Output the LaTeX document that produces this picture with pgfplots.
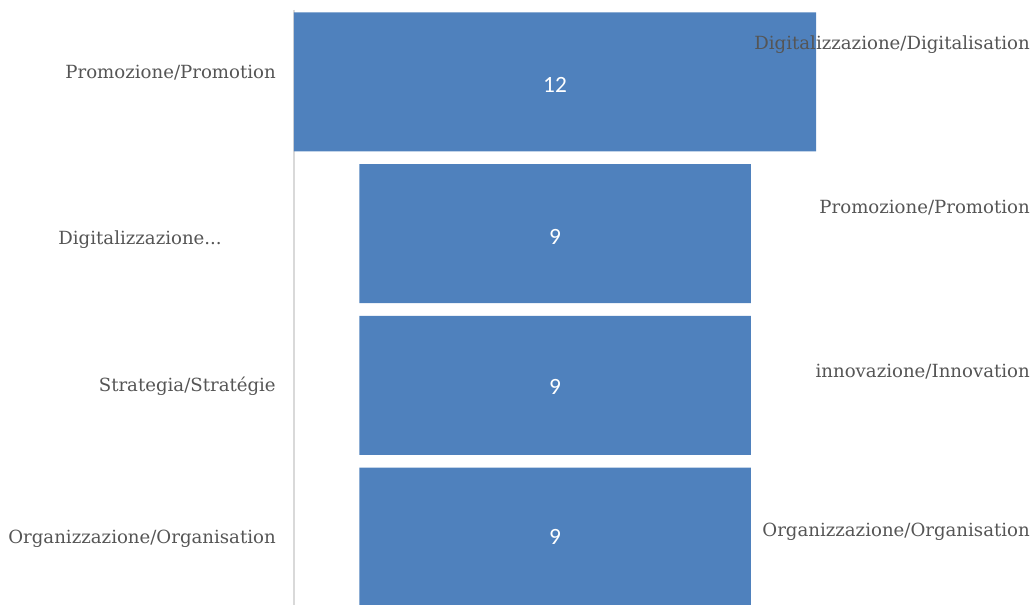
\documentclass[border=0pt]{standalone}
\usepackage{pgfplots}
\pgfplotsset{compat=1.18}
\usepackage{fontspec}
\setmainfont{DejaVu Serif}
\newfontfamily\numfont{Carlito}
\definecolor{barblue}{HTML}{4F81BD}
\definecolor{labgray}{HTML}{555555}
\definecolor{axgray}{HTML}{D9D9D9}
\pgfplotsset{common/.style={scale only axis, width=391.5pt, height=446.25pt,
  xmin=0, xmax=12, ymin=-0.474, ymax=3.447, y dir=reverse,
  at={(0,0)}, anchor=south west, clip=false}}
\begin{document}
\begin{tikzpicture}
\begin{axis}[common, xbar stacked, bar width=104.25pt,
  hide x axis, axis y line=left, ytick=\empty,
  y axis line style={-, draw=axgray, line width=1pt}]
\addplot[draw=none, fill=none] coordinates {(0,0) (1.5,1) (1.5,2) (1.5,3)};
\addplot[draw=none, fill=barblue] coordinates {(12,0) (9,1) (9,2) (9,3)};
\end{axis}
\begin{axis}[common, hide axis]
\addplot[draw=none, mark=none, nodes near coords, point meta=explicit symbolic,
  nodes near coords style={anchor=center, font=\numfont\fontsize{17.5}{20}\selectfont, text=white}]
  coordinates {(6,0.02)[12] (6,1.02)[9] (6,2.01)[9] (6,3.0)[9]};
\addplot[draw=none, mark=none, nodes near coords, point meta=explicit symbolic,
  nodes near coords style={anchor=east, inner sep=0pt, font=\fontsize{13.6}{16}\selectfont, text=labgray}]
  coordinates {(-0.414,-0.059)[Promozione/Promotion] (-1.655,1.04)[Digitalizzazione...] (-0.414,2.007)[Strategia/Stratégie] (-0.414,3.01)[Organizzazione/Organisation]};
\addplot[draw=none, mark=none, nodes near coords, point meta=explicit symbolic,
  nodes near coords style={anchor=east, inner sep=0pt, font=\fontsize{13.6}{16}\selectfont, text=labgray}]
  coordinates {(16.92,-0.243)[Digitalizzazione/Digitalisation] (16.92,0.829)[Promozione/Promotion] (16.92,1.908)[innovazione/Innovation] (16.92,2.967)[Organizzazione/Organisation]};
\end{axis}
\pgfresetboundingbox
\path[use as bounding box] (-220.5pt,0) rectangle (555.75pt,453.75pt);
\end{tikzpicture}
\end{document}
